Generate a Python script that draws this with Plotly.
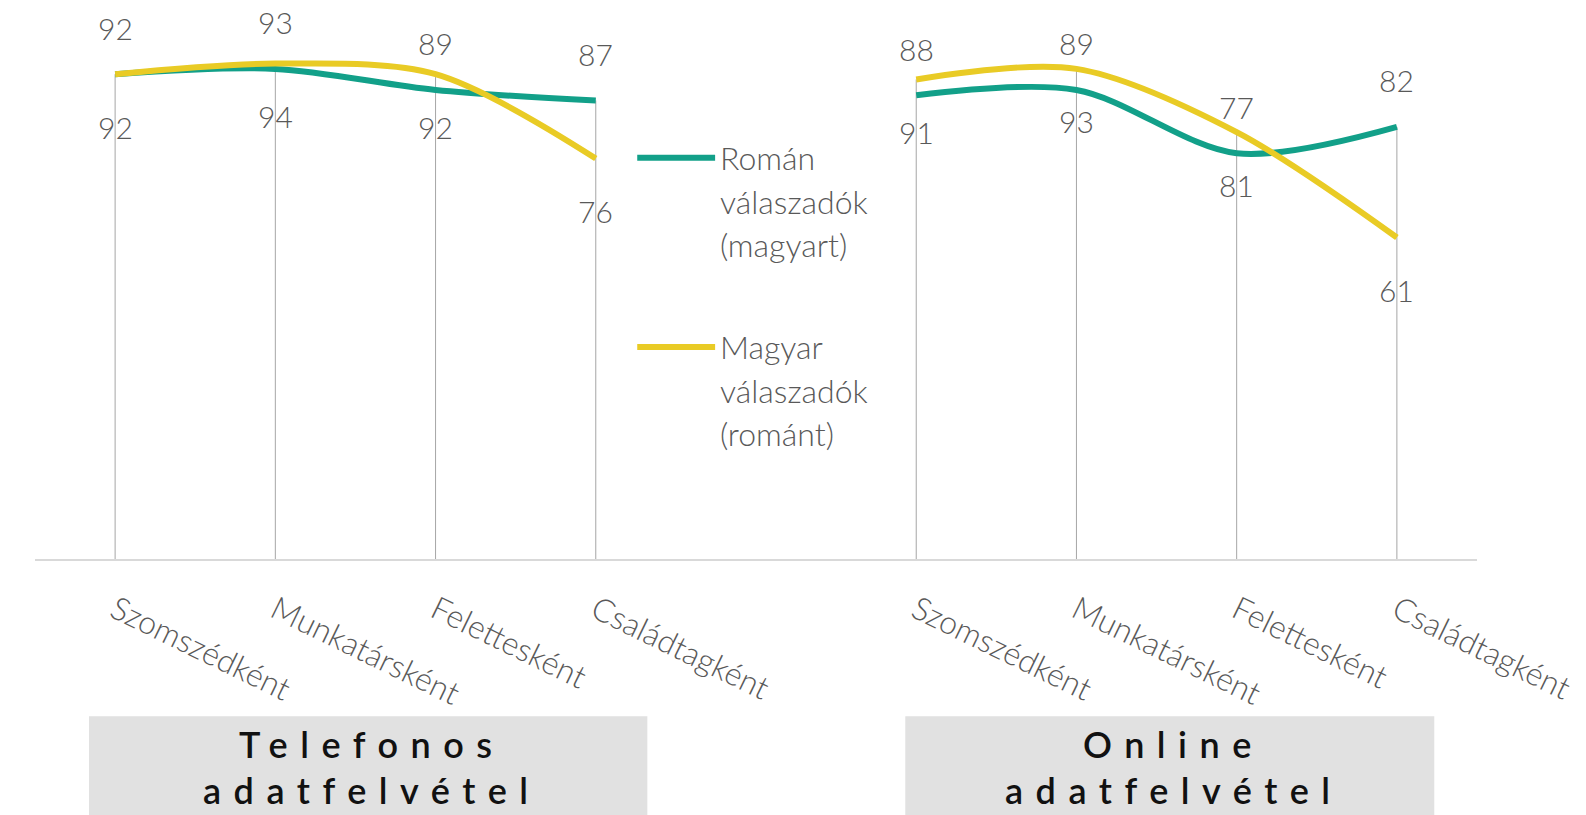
import plotly.graph_objects as go

# ---- data ----
categories = ["Szomszédként", "Munkatársként", "Felettesként", "Családtagként"]
groups = ["Telefonos adatfelvétel", "Online adatfelvétel"]
roman_tel = [92, 93, 89, 87]      # Román válaszadók (magyart) - telefonos
magyar_tel = [92, 94, 92, 76]     # Magyar válaszadók (románt) - telefonos
roman_onl = [88, 89, 77, 82]      # Román válaszadók (magyart) - online
magyar_onl = [91, 93, 81, 61]     # Magyar válaszadók (románt) - online
series_names = ["Román<br>válaszadók<br>(magyart)", "Magyar<br>válaszadók<br>(románt)"]

# ---- style / layout ----
W, H = 1586, 815
S = 1586 / 1568
ML = round(35 * S)
MR = W - round(1460 * S)
MT = round(32 * S)
MB = H - round(553 * S)
GREEN = "#12a089"
YELLOW = "#e9cb25"
TXT = "#595959"
FONT = "Lato, 'Open Sans', sans-serif"
PW = W - ML - MR
PH = H - MT - MB

def px_x(p):
    return (p * S - ML) / PW

def px_y(p):
    return (H - MB - p * S) / PH

x_tel = [0, 1, 2, 3]
x_onl = [5, 6, 7, 8]

fig = go.Figure()

# drop lines (to the higher of the two series)
dx, dy = [], []
for xs, a, b in [(x_tel, roman_tel, magyar_tel), (x_onl, roman_onl, magyar_onl)]:
    for x, va, vb in zip(xs, a, b):
        dx += [x, x, None]
        dy += [0, max(va, vb), None]
fig.add_trace(go.Scatter(x=dx, y=dy, mode="lines", line=dict(color="#a6a6a6", width=1),
                         hoverinfo="skip", showlegend=False))

for xs, vals, col in [(x_tel, roman_tel, GREEN), (x_onl, roman_onl, GREEN),
                      (x_tel, magyar_tel, YELLOW), (x_onl, magyar_onl, YELLOW)]:
    fig.add_trace(go.Scatter(x=xs, y=vals, mode="lines",
                             line=dict(color=col, width=6, shape="spline", smoothing=0.9),
                             showlegend=False))

LFONT = dict(family=FONT, size=30, color=TXT, weight=300)

annotations = []
# data labels
for xs, vals in [(x_tel, roman_tel), (x_onl, roman_onl)]:
    for x, v in zip(xs, vals):
        annotations.append(dict(x=x, y=v, text=str(v), showarrow=False, yshift=46.5, font=LFONT))
for xs, vals in [(x_tel, magyar_tel), (x_onl, magyar_onl)]:
    for x, v in zip(xs, vals):
        annotations.append(dict(x=x, y=v, text=str(v), showarrow=False, yshift=-52.5, font=LFONT))

# manual legend
shapes = []
for (ly, col, name) in [(156, GREEN, series_names[0]), (343, YELLOW, series_names[1])]:
    shapes.append(dict(type="line", xref="paper", yref="paper",
                       x0=px_x(630), x1=px_x(707), y0=px_y(ly), y1=px_y(ly),
                       line=dict(color=col, width=6)))
    for i, line_txt in enumerate(name.split("<br>")):
        annotations.append(dict(xref="paper", yref="paper", x=px_x(710), y=px_y(ly + 43 * i),
                                xanchor="left", yanchor="middle", text=line_txt, showarrow=False,
                                font=dict(family=FONT, size=32, color=TXT, weight=300)))

# group header boxes
for (x0, x1, g) in [(88, 640, groups[0]), (895, 1418, groups[1])]:
    shapes.append(dict(type="rect", xref="paper", yref="paper",
                       x0=px_x(x0), x1=px_x(x1), y0=px_y(708), y1=px_y(830),
                       fillcolor="#e1e1e1", line=dict(width=0), layer="below"))
    w1, w2 = g.split(" ")
    cx = px_x((x0 + x1) / 2 + 4)
    for wtxt, yy in [(w1, 736), (w2, 781)]:
        annotations.append(dict(xref="paper", yref="paper", x=cx, y=px_y(yy),
                                xanchor="center", yanchor="middle", showarrow=False,
                                text="<span style='letter-spacing:12.5px'>" + wtxt + "</span>",
                                font=dict(family=FONT, size=36, color="#111111", weight=600)))

fig.update_layout(
    width=W, height=H,
    margin=dict(l=ML, r=MR, t=MT, b=MB, autoexpand=False),
    paper_bgcolor="white", plot_bgcolor="white",
    showlegend=False,
    annotations=annotations,
    shapes=shapes,
    xaxis=dict(range=[-0.5, 8.5], tickmode="array", tickvals=x_tel + x_onl,
               ticktext=categories + categories, tickangle=26, automargin=False,
               tickfont=dict(family=FONT, size=32, color=TXT, weight=300),
               showgrid=False, zeroline=False, showline=True, linecolor="#d9d9d9", linewidth=2,
               ticks="", ticklabelstandoff=18),
    yaxis=dict(range=[0, 100], visible=False, showgrid=False, automargin=False),
)

fig.write_html("out.html", config={"displayModeBar": False},
               post_script="document.body.style.margin='0px';document.body.style.overflow='hidden';")
